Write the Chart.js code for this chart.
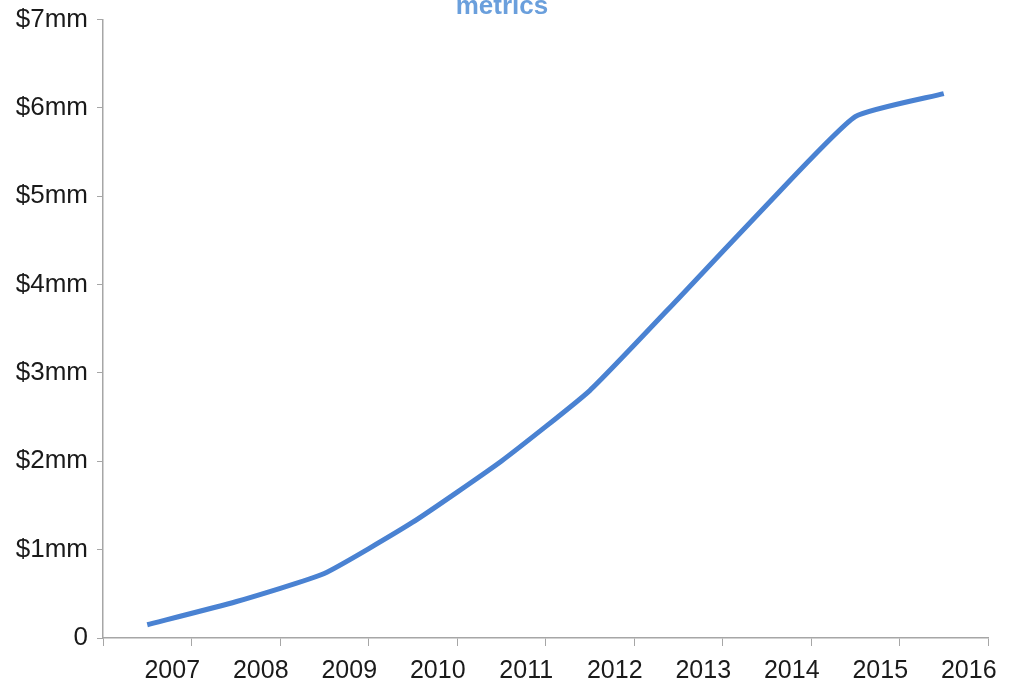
<!DOCTYPE html>
<html>
<head>
<meta charset="utf-8">
<script src="https://cdn.jsdelivr.net/npm/chart.js@4/dist/chart.umd.min.js"></script>
<style>
  body { margin: 0; background: #fff; }
  #wrap { position: relative; width: 1018px; height: 690px; overflow: hidden; }
  #title {
    position: absolute; left: 0; width: 1004px; top: -8px;
    text-align: center; font: bold 26px "Liberation Sans", Arial, sans-serif;
    line-height: 26px; color: #6a9fdc;
  }
</style>
</head>
<body>
<div id="wrap">
  <canvas id="revenueChart" width="1018" height="690"></canvas>
  <div id="title">metrics</div>
</div>
<script>
const years = ['2007', '2008', '2009', '2010', '2011', '2012', '2013', '2014', '2015', '2016'];
const revenue = [0.15, 0.41, 0.73, 1.31, 2.0, 2.8, 3.84, 4.9, 5.9, 6.16];
const yTickLabels = ['0', '$1mm', '$2mm', '$3mm', '$4mm', '$5mm', '$6mm', '$7mm'];

const axisGrey = '#a6a6a6';
const xFont = { family: '"Liberation Sans", Arial, sans-serif', size: 25 };
const yFont = { family: '"Liberation Sans", Arial, sans-serif', size: 26, lineHeight: 0.8 };

const ctx = document.getElementById('revenueChart').getContext('2d');

const revenueChart = new Chart(ctx, {
    type: 'line',
    data: {
        labels: years,
        datasets: [{
            data: revenue,
            borderColor: '#4a82d2',
            borderWidth: 5,
            pointRadius: 0,
            tension: 0.15,
            fill: false,
        }],
    },
    options: {
        responsive: false,
        animation: false,
        layout: { padding: { top: 18, right: 30, left: 0, bottom: 0 } },
        plugins: { legend: { display: false }, tooltip: { enabled: false } },
        scales: {
            x: {
                offset: true,
                grid: { offset: true, drawOnChartArea: false, color: axisGrey, tickLength: 8 },
                border: { color: axisGrey, width: 1.5 },
                ticks: { color: '#1a1a1a', font: xFont, padding: 10, labelOffset: 25, maxRotation: 0 },
                afterFit: (scale) => { scale.height = 52; },
            },
            y: {
                min: 0,
                max: 7,
                grid: { drawOnChartArea: false, color: axisGrey, tickLength: 6 },
                border: { color: axisGrey, width: 1.5 },
                ticks: {
                    stepSize: 1,
                    color: '#1a1a1a',
                    font: yFont,
                    padding: 9,
                    callback: (value) => yTickLabels[value],
                },
                afterFit: (scale) => { scale.width = 103; },
            },
        },
    },
});
</script>
</body>
</html>
